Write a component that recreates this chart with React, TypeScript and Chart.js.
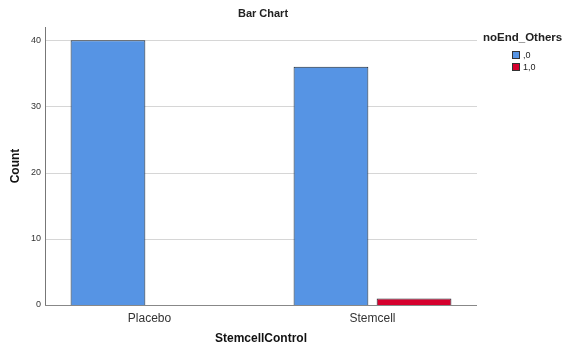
import React, { useEffect, useRef } from "react";
import { Chart, registerables } from "chart.js";

Chart.register(...registerables);

const categories = ["Placebo", "Stemcell"];
const seriesLabels = [",0", "1,0"];
const seriesZero = [40, 36];
const seriesOne = [0, 1];
const yTicks = [0, 10, 20, 30, 40];
const colors = ["#5694E4", "#D5002D"];

const FONT = "'Liberation Sans', Arial, sans-serif";
const AXIS_LEFT = 45;
const AXIS_RIGHT = 477;

const framePlugin = {
  id: "frame",
  beforeDatasetsDraw(chart: any) {
    const ctx = chart.ctx;
    const y = chart.scales.y;
    ctx.save();
    ctx.lineWidth = 1;
    ctx.strokeStyle = "#d6d6d6";
    y.ticks.forEach((t: any) => {
      if (t.value === 0) return;
      const py = Math.round(y.getPixelForValue(t.value)) + 0.5;
      ctx.beginPath();
      ctx.moveTo(AXIS_LEFT, py);
      ctx.lineTo(AXIS_RIGHT, py);
      ctx.stroke();
    });
    ctx.restore();
  },
  afterDatasetsDraw(chart: any) {
    const ctx = chart.ctx;
    const y = chart.scales.y;
    const area = chart.chartArea;
    ctx.save();
    ctx.lineWidth = 1;
    ctx.strokeStyle = "#777";
    const by = Math.round(y.getPixelForValue(0)) + 0.5;
    ctx.beginPath();
    ctx.moveTo(AXIS_LEFT + 0.5, area.top);
    ctx.lineTo(AXIS_LEFT + 0.5, by);
    ctx.stroke();
    ctx.strokeStyle = "#888";
    ctx.beginPath();
    ctx.moveTo(AXIS_LEFT, by);
    ctx.lineTo(AXIS_RIGHT, by);
    ctx.stroke();
    // y tick labels
    ctx.fillStyle = "#333";
    ctx.font = `9px ${FONT}`;
    ctx.textAlign = "right";
    ctx.textBaseline = "middle";
    y.ticks.forEach((t: any) => {
      ctx.fillText(String(t.value), 41, y.getPixelForValue(t.value));
    });
    ctx.restore();
  },
  afterDraw(chart: any) {
    const ctx = chart.ctx;
    ctx.save();
    ctx.fillStyle = "#222";
    ctx.font = `bold 11px ${FONT}`;
    ctx.textAlign = "center";
    ctx.textBaseline = "middle";
    ctx.fillText("Bar Chart", 263, 14);
    // legend
    ctx.textAlign = "left";
    ctx.font = `bold 11.5px ${FONT}`;
    ctx.fillText("noEnd_Others", 483, 38);
    ctx.font = `9px ${FONT}`;
    chart.data.datasets.forEach((ds: any, i: number) => {
      const yy = 51 + i * 12;
      ctx.fillStyle = ds.backgroundColor;
      ctx.fillRect(512, yy, 8, 8);
      ctx.strokeStyle = "#333";
      ctx.lineWidth = 1;
      ctx.strokeRect(512.5, yy + 0.5, 7, 7);
      ctx.fillStyle = "#222";
      ctx.fillText(ds.label, 523, yy + 4.5);
    });
    ctx.restore();
  },
};

export default function App() {
  const ref = useRef<HTMLCanvasElement>(null);
  useEffect(() => {
    document.body.style.margin = "0";
    const chart = new Chart(ref.current!, {
      type: "bar",
      data: {
        labels: categories,
        datasets: [
          {
            label: seriesLabels[0],
            data: seriesZero,
            backgroundColor: colors[0],
            borderColor: "#1e2833",
            borderWidth: 1,
          },
          {
            label: seriesLabels[1],
            data: seriesOne,
            backgroundColor: colors[1],
            borderColor: "#1e2833",
            borderWidth: 1,
          },
        ],
      },
      options: {
        responsive: false,
        animation: false,
        devicePixelRatio: 1,
        layout: { padding: { top: 27, right: 84, left: 0, bottom: 0 } },
        plugins: {
          legend: { display: false },
          title: { display: false },
          tooltip: { enabled: false },
        },
        datasets: {
          bar: { categoryPercentage: 0.745, barPercentage: 0.9 },
        },
        scales: {
          x: {
            grid: { display: false, drawTicks: false },
            border: { display: false },
            ticks: {
              color: "#333",
              font: { family: FONT, size: 12 },
              padding: 6,
            },
            title: {
              display: true,
              text: "StemcellControl",
              color: "#111",
              font: { family: FONT, size: 12, weight: "bold" },
              padding: { top: 4, bottom: 0 },
            },
            afterFit(scale: any) {
              scale.height = 41;
            },
          },
          y: {
            min: 0,
            max: 42,
            grid: { display: false, drawTicks: false },
            border: { display: false },
            ticks: { display: false, stepSize: 10 },
            afterBuildTicks(scale: any) {
              scale.ticks = yTicks.map((v) => ({ value: v }));
            },
            title: {
              display: true,
              text: "Count",
              color: "#111",
              font: { family: FONT, size: 12, weight: "bold" },
              padding: { top: 8, bottom: 0 },
            },
            afterFit(scale: any) {
              scale.width = 38;
            },
          },
        },
      },
      plugins: [framePlugin],
    });
    return () => chart.destroy();
  }, []);
  return <canvas ref={ref} width={568} height={346} style={{ display: "block" }} />;
}
